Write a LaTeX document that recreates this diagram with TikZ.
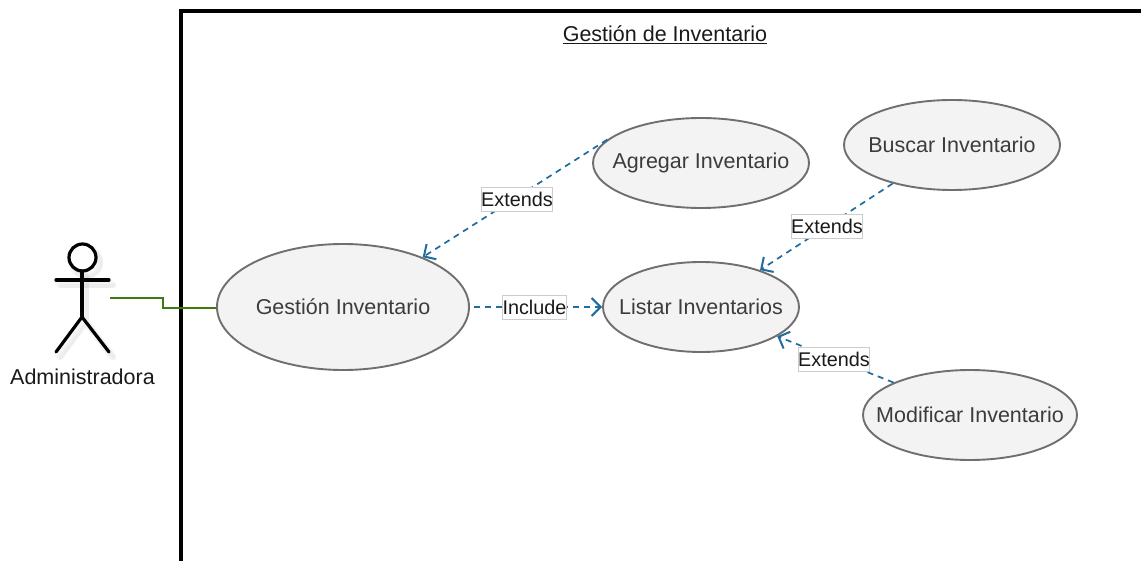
\documentclass[tikz,border=0pt]{standalone}
\usepackage{fontspec}
\setmainfont{Liberation Sans}
\usetikzlibrary{shapes.geometric,arrows.meta}
\definecolor{ucblue}{HTML}{1F6C9E}
\definecolor{ucgreen}{HTML}{3F7A0E}
\definecolor{ucfill}{HTML}{F3F3F3}
\definecolor{ucedge}{HTML}{6F6F6F}
\definecolor{uctext}{HTML}{3C3C3C}
\newcommand{\uctxt}[1]{\makebox[0pt]{#1}}
\tikzset{
  usecase/.style={ellipse,draw=ucedge,fill=ucfill,line width=1.9pt,inner sep=0pt,text=uctext,font=\fontsize{21.5}{24}\selectfont},
  rel/.style={draw=ucblue,line width=1.7pt,dash pattern=on 6pt off 5pt,-{Straight Barb[length=9pt,width=18pt,line width=2pt]}},
  rellabel/.style={draw=black!20,fill=white,line width=0.8pt,inner sep=0pt,minimum height=24pt,text=black!90,font=\fontsize{19.8}{24}\selectfont},
  assoc/.style={draw=ucgreen,line width=1.7pt},
  figure line/.style={draw=black,line width=3.2pt,line cap=round},
  shadow line/.style={draw=black,line cap=round},
}
\begin{document}
\begin{tikzpicture}[x=1pt,y=-1pt]
\useasboundingbox (0,0) rectangle (1141,561);
% frame
\coordinate (frameA) at (1141,11);
\coordinate (frameB) at (181,11);
\coordinate (frameC) at (181,561);
\draw[black,line width=3.6pt,line join=miter] (frameA) -- (frameB) -- (frameC);
\node[font=\fontsize{21.5}{24}\selectfont,text=black!90,inner sep=0pt] (title) at (665,35) {\underline{Gestión de Inventario}};
% use cases
\node[usecase,minimum width=252pt,minimum height=126pt] (ge) at (343,307) {\uctxt{Gestión Inventario}};
\node[usecase,minimum width=216pt,minimum height=90pt] (ag) at (701,163) {\uctxt{Agregar Inventario}};
\node[usecase,minimum width=216pt,minimum height=90pt] (bu) at (952,145) {\uctxt{Buscar Inventario}};
\node[usecase,minimum width=196pt,minimum height=90pt] (li) at (701,307) {\uctxt{Listar Inventarios}};
\node[usecase,minimum width=214pt,minimum height=90pt] (mo) at (970,415) {\uctxt{Modificar Inventario}};
% actor shadow
\foreach \off/\wd in {3/8,4/6,5/4}{
\begin{scope}[shift={(\off,\off+1)},opacity=.025]
\draw[shadow line,line width=\wd pt] (82.5,257.5) circle (13.5);
\draw[shadow line,line width=\wd pt] (56,280) -- (109,280);
\draw[shadow line,line width=\wd pt] (82,271) -- (82,317) (56,352) -- (82,317) -- (109,352);
\end{scope}
}
% actor
\draw[figure line,fill=white] (82.5,257.5) circle (13.5);
\draw[figure line] (56,280) -- (109,280);
\draw[figure line] (82,271) -- (82,317);
\draw[figure line,line join=miter] (56,352) -- (82,317) -- (109,352);
\node[font=\fontsize{21.5}{24}\selectfont,text=black!90,inner sep=0pt] (actor) at (82.5,377) {Administradora};
% connectors
\coordinate (actorhand) at (110,298);
\draw[assoc] (actorhand) -- (163,298) -- (163,308) -- (ge.west |- 0,308);
\draw[rel] (ag.166) -- (ge.32);
\draw[rel] (bu.213.5) -- (li.32.5);
\draw[rel] (mo.157.7) -- (li.-21);
\draw[rel] ([xshift=4pt]ge.east) -- (li.west);
% labels
\node[rellabel,minimum width=71pt] (l1) at (517,199) {Extends};
\node[rellabel,minimum width=63pt] (l2) at (534.5,307) {Include};
\node[rellabel,minimum width=71pt] (l3) at (827,226) {Extends};
\node[rellabel,minimum width=71pt] (l4) at (834,359) {Extends};
\end{tikzpicture}
\end{document}
